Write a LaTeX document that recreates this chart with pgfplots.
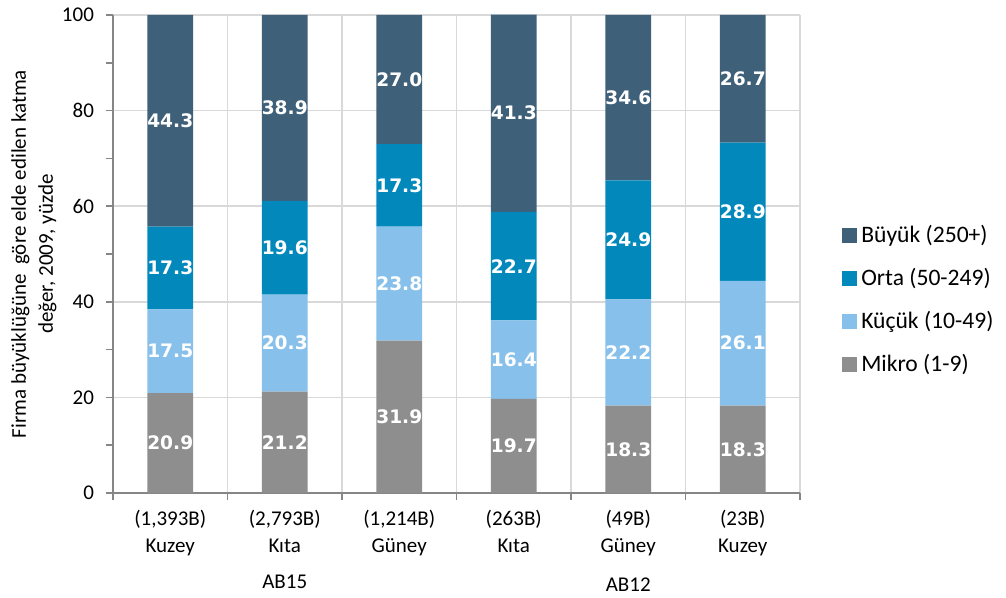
\documentclass[border=0pt]{standalone}
\usepackage{pgfplots}
\usepackage{pgfplotstable}
\pgfplotsset{compat=1.18}
\usepackage{fontspec}
\setmainfont{Carlito}
\newfontfamily\lblfont{DejaVu Sans}

\definecolor{buyuk}{HTML}{3F6079}
\definecolor{orta}{HTML}{0388BC}
\definecolor{kucuk}{HTML}{87C0EA}
\definecolor{mikro}{HTML}{8E8E8E}
\definecolor{gridc}{HTML}{D9D9D9}
\definecolor{axisc}{HTML}{868686}

\pgfplotstableread{
x mikro kucuk orta buyuk
0 20.9 17.5 17.3 44.3
1 21.2 20.3 19.6 38.9
2 31.9 23.8 17.3 27.0
3 19.7 16.4 22.7 41.3
4 18.3 22.2 24.9 34.6
5 18.3 26.1 28.9 26.7
}\shares

\begin{document}
\begin{tikzpicture}
\begin{axis}[
  scale only axis, width=343.5pt, height=239pt,
  ybar stacked, bar width=0.4,
  xmin=-0.5, xmax=5.5, ymin=0, ymax=100,
  xtick={0,...,5},
  xticklabels={{(1,393B)\\Kuzey},{(2,793B)\\Kıta},{(1,214B)\\Güney},{(263B)\\Kıta},{(49B)\\Güney},{(23B)\\Kuzey}},
  xticklabel style={align=center, font=\fontsize{10.5}{13.5}\selectfont, yshift=-1.5pt},
  yticklabel style={font=\fontsize{10.5}{12}\selectfont, xshift=-2.5pt},
  /pgf/number format/assume math mode=true,
  ytick={0,20,...,100}, minor y tick num=1,
  minor xtick={-0.5,0.5,...,5.5},
  xminorgrids, ymajorgrids,
  major x tick style={draw=none},
  tick align=outside,
  major tick length=3.5pt, minor tick length=3.5pt,
  tick style={axisc, line width=0.8pt},
  grid style={gridc, line width=0.8pt},
  minor grid style={gridc, line width=0.8pt},
  axis x line*=bottom, axis y line*=left,
  axis line style={axisc, line width=1pt, -},
  every axis y label/.style={at={(axis description cs:-0.115,0.5)}, rotate=90, anchor=center, align=center, font=\fontsize{10.5}{13.5}\selectfont},
  ylabel={Firma büyüklüğüne\ \ göre elde edilen katma\\değer, 2009, yüzde},
  clip=false,
  point meta=explicit symbolic,
  nodes near coords={\pgfplotspointmeta},
  nodes near coords align=center,
  every node near coord/.append style={white, font=\lblfont\bfseries\fontsize{9.3}{10}\selectfont, anchor=center},
  reverse legend,
  legend style={at={(1.061,0.404)}, anchor=west, draw=none, fill=none, font=\fontsize{11.8}{13}\selectfont, row sep=7.5pt, inner sep=0pt},
  legend cell align=left,
  legend image code/.code={\fill[#1] (0pt,-3.8pt) rectangle (7.5pt,3.7pt);},
]
\addplot[fill=mikro, draw=none] table[x=x, y=mikro, meta=mikro] {\shares};
\addplot[fill=kucuk, draw=none] table[x=x, y=kucuk, meta=kucuk] {\shares};
\addplot[fill=orta, draw=none] table[x=x, y=orta, meta=orta] {\shares};
\addplot[fill=buyuk, draw=none] table[x=x, y=buyuk, meta=buyuk] {\shares};
\legend{Mikro (1-9), Küçük (10-49), Orta (50-249), Büyük (250+)}
\node[font=\fontsize{10.5}{12}\selectfont] at (axis cs:1,0) [yshift=-44.5pt] {AB15};
\node[font=\fontsize{10.5}{12}\selectfont] at (axis cs:4,0) [yshift=-46pt] {AB12};
\end{axis}
\pgfresetboundingbox
\path[use as bounding box] (-56.5pt,-52.5pt) rectangle (446.5pt,246.5pt);
\end{tikzpicture}
\end{document}
